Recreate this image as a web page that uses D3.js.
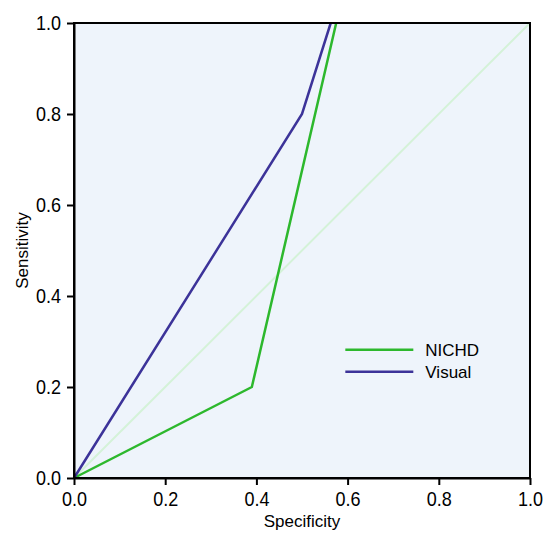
<!DOCTYPE html>
<html>
<head>
<meta charset="utf-8">
<script src="https://cdn.jsdelivr.net/npm/d3@7"></script>
<style>
  body { margin: 0; background: #fff; }
  svg text { font-family: Arial, "Liberation Sans", sans-serif; fill: #000; }
</style>
</head>
<body>
<div id="chart"></div>
<script>
// ROC curves
const seriesNames = ['NICHD', 'Visual']
const nichdX = [0, 0.39, 0.575]
const nichdY = [0, 0.2, 1.0]
const visualX = [0, 0.5, 0.563]
const visualY = [0, 0.8, 1.0]
const refX = [0, 1]
const refY = [0, 1]
const tickValues = [0, 0.2, 0.4, 0.6, 0.8, 1.0]
const colors = ['#2db82d', '#3c3399']

const margin = { top: 23, right: 14, bottom: 55, left: 74 }
const width = 544 - margin.left - margin.right
const height = 533 - margin.top - margin.bottom

const svg = d3.select('#chart')
    .append('svg')
    .attr('width', 544)
    .attr('height', 533)
    .append('g')
    .attr('transform', `translate(${margin.left}, ${margin.top})`)

const x = d3.scaleLinear().domain([0, 1]).range([0, width])
const y = d3.scaleLinear().domain([0, 1]).range([height, 0])

svg.append('rect')
    .attr('width', width)
    .attr('height', height)
    .attr('fill', '#eef4fb')

const toPts = (xs, ys) => xs.map((v, i) => ({ x: v, y: ys[i] }))
const line = d3.line().x(d => x(d.x)).y(d => y(d.y))

svg.append('path')
    .datum(toPts(refX, refY))
    .attr('fill', 'none')
    .attr('stroke', '#d4f2d8')
    .attr('stroke-width', 2)
    .attr('d', line)

const series = [toPts(nichdX, nichdY), toPts(visualX, visualY)]
series.forEach((s, i) => {
    svg.append('path')
        .datum(s)
        .attr('fill', 'none')
        .attr('stroke', colors[i])
        .attr('stroke-width', 2.5)
        .attr('stroke-linejoin', 'miter')
        .attr('d', line)
})

// frame
svg.append('rect')
    .attr('width', width)
    .attr('height', height)
    .attr('fill', 'none')
    .attr('stroke', '#000')
    .attr('stroke-width', 2)

const fmt = d3.format('.1f')

const xAxis = svg.append('g')
    .attr('transform', `translate(0, ${height})`)
    .call(d3.axisBottom(x).tickValues(tickValues).tickFormat(fmt).tickSize(7).tickPadding(7).tickSizeOuter(0))
const yAxis = svg.append('g')
    .call(d3.axisLeft(y).tickValues(tickValues).tickFormat(fmt).tickSize(7).tickSizeOuter(0))

;[xAxis, yAxis].forEach(g => {
    g.select('.domain').attr('stroke-width', 2)
    g.selectAll('.tick line').attr('stroke-width', 2)
    g.selectAll('.tick text').attr('font-size', 20).attr('font-family', 'Arial, "Liberation Sans", sans-serif')
})
xAxis.selectAll('.tick text').attr('transform', 'scale(0.9,1)')
yAxis.selectAll('.tick text').attr('x', -14.5).attr('transform', 'scale(0.9,1)')

svg.append('text')
    .attr('x', width / 2)
    .attr('y', height + 49)
    .attr('text-anchor', 'middle')
    .attr('font-size', 17)
    .text('Specificity')

svg.append('text')
    .attr('transform', `translate(${-46}, ${height / 2}) rotate(-90)`)
    .attr('text-anchor', 'middle')
    .attr('font-size', 17)
    .text('Sensitivity')

// legend
const legend = svg.append('g')
    .attr('transform', `translate(${x(0.595)}, ${y(0.282)})`)
seriesNames.forEach((name, i) => {
    const row = legend.append('g').attr('transform', `translate(0, ${i * 22})`)
    row.append('line')
        .attr('x1', 0).attr('x2', 68)
        .attr('stroke', colors[i])
        .attr('stroke-width', 2.5)
    row.append('text')
        .attr('x', 80)
        .attr('y', 6)
        .attr('font-size', 17)
        .text(name)
})
</script>
</body>
</html>
